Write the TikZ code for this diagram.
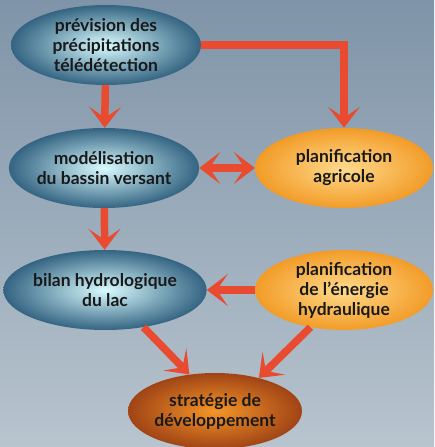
\documentclass[tikz,border=0pt]{standalone}
\usepackage{fontspec}
\setmainfont{Lato}
\usetikzlibrary{shapes.geometric,arrows.meta}
\definecolor{skytop}{HTML}{7F94A8}
\definecolor{skybot}{HTML}{B8C4CE}
\definecolor{arrowred}{HTML}{E84B2F}

\begin{document}
\begin{tikzpicture}[x=1pt, y=-1pt,
  blob/.style={ellipse, inner sep=0pt, minimum width=190pt, minimum height=80pt,
    align=center, text=black!90, font=\bfseries\fontsize{17.5}{20}\selectfont},
  water/.style={blob, shading=radial, inner color=blue!10!cyan!15!white, outer color={rgb,255:red,52;green,100;blue,130}},
  sun/.style={blob, shading=radial, inner color={rgb,255:red,255;green,218;blue,140}, outer color={rgb,255:red,242;green,156;blue,40}},
  earth/.style={blob, minimum width=174pt, minimum height=76pt, shading=radial,
    inner color={rgb,255:red,245;green,150;blue,40}, outer color={rgb,255:red,160;green,68;blue,22}},
  flow/.style={draw=arrowred, line width=7.5pt, -{Stealth[length=21pt,width=32pt,inset=11pt]}},
  flowboth/.style={flow, {Stealth[length=21pt,width=32pt,inset=11pt]}-{Stealth[length=21pt,width=32pt,inset=11pt]}}]
\shade [top color=skytop, bottom color=skybot] (0, 0) rectangle (434, 447);
\useasboundingbox (0, 0) rectangle (434, 447);

\node [water] (prev) at (106, 45)  {prévision des\\précipitations\\télédétection};
\node [water, minimum width=188pt] (model) at (104, 168) {modélisation\\du bassin versant};
\node [sun, minimum width=178pt] (agri) at (344, 168) {planification\\agricole};
\node [water] (bilan) at (105, 290) {bilan hydrologique\\du lac};
\node [sun, minimum width=178pt] (hydro) at (344, 290) {planification\\de l’énergie\\hydraulique};
\node [earth] (strat) at (215, 411) {stratégie de\\développement};

\draw [flow] (prev) -- (model);
\draw [flow] (prev.east) -| (agri.north);
\draw [flowboth] (model.east) -- (agri.west);
\draw [flow] (model) -- (bilan);
\draw [flow] (hydro.west) -- (bilan.east);
\draw [flow] (bilan.-44) -- (strat.125);
\draw [flow] (hydro.-132) -- (strat.37);
\end{tikzpicture}
\end{document}
